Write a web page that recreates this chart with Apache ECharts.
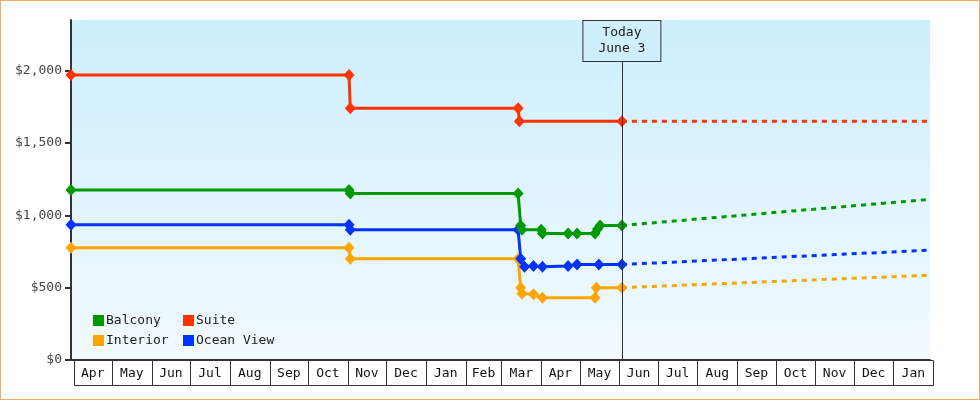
<!DOCTYPE html>
<html><head><meta charset="utf-8">
<script src="https://cdn.jsdelivr.net/npm/echarts@6/dist/echarts.min.js"></script>
<style>
html,body{margin:0;padding:0;background:#fff;}
#c{position:absolute;left:0;top:0;width:978px;height:398px;border:1px solid #e8ab6a;}
</style></head><body><div id="c"></div>
<script>
// ---- data ----
const monthLabels = ['Apr','May','Jun','Jul','Aug','Sep','Oct','Nov','Dec','Jan','Feb','Mar','Apr','May','Jun','Jul','Aug','Sep','Oct','Nov','Dec','Jan'];
const monthStarts = ['2014-04-01','2014-05-01','2014-06-01','2014-07-01','2014-08-01','2014-09-01','2014-10-01','2014-11-01','2014-12-01','2015-01-01','2015-02-01','2015-03-01','2015-04-01','2015-05-01','2015-06-01','2015-07-01','2015-08-01','2015-09-01','2015-10-01','2015-11-01','2015-12-01','2016-01-01','2016-02-01'];
const yTicks = [0, 500, 1000, 1500, 2000];

const balconyDates  = ['2014-03-30','2014-11-02','2014-11-03','2015-03-14','2015-03-16','2015-03-17','2015-04-01','2015-04-02','2015-04-22','2015-04-29','2015-05-13','2015-05-15','2015-05-17','2015-06-03'];
const balconyPrices = [1175,1175,1150,1150,930,900,900,875,875,875,875,905,930,930];

const suiteDates  = ['2014-03-30','2014-11-02','2014-11-03','2015-03-14','2015-03-15','2015-06-03'];
const suitePrices = [1970,1970,1740,1740,1650,1650];

const interiorDates  = ['2014-03-30','2014-11-02','2014-11-03','2015-03-14','2015-03-16','2015-03-17','2015-03-26','2015-04-02','2015-05-13','2015-05-14','2015-06-03'];
const interiorPrices = [775,775,700,700,500,460,455,430,430,500,500];

const oceanDates  = ['2014-03-30','2014-11-02','2014-11-03','2015-03-14','2015-03-16','2015-03-19','2015-03-26','2015-04-02','2015-04-22','2015-04-29','2015-05-16','2015-06-03'];
const oceanPrices = [935,935,900,900,700,645,650,645,650,660,660,660];

const forecastDates    = ['2015-06-03','2016-01-29'];
const balconyForecast  = [930, 1110];
const suiteForecast    = [1650, 1650];
const interiorForecast = [500, 586];
const oceanForecast    = [660, 759];

const todayDate = '2015-06-03';
const todayLabel = 'Today\nJune 3';

// ---- helpers ----
const ts = s => new Date(s + 'T00:00:00').getTime();
const pairs = (d, v) => d.map((x, i) => [ts(x), v[i]]);
const FONT = '"DejaVu Sans Mono", "Liberation Mono", monospace';

const colors = {Balcony:'#009900', Suite:'#ff3300', Interior:'#ffa500', 'Ocean View':'#0033ff'};

function obsSeries(name, d, v) {
  return {
    name, type:'line', data: pairs(d, v), color: colors[name],
    symbol:'diamond', symbolSize:[11,12], showSymbol:true,
    lineStyle:{width:3, color: colors[name]}, itemStyle:{color: colors[name]},
    animation:false, z:3
  };
}
function fcSeries(name, v) {
  return {
    name: name + ' forecast', type:'line', data: pairs(forecastDates, v),
    showSymbol:false, symbol:'none',
    lineStyle:{width:3, type:[5,5], color: colors[name]},
    animation:false, z:2, silent:true
  };
}

const chart = echarts.init(document.getElementById('c'), null, {renderer:'canvas'});
const monthData = monthLabels.map((m, i) => [ts(monthStarts[i]), ts(monthStarts[i+1]), m]);

const legendCommon = {
  orient:'vertical', itemWidth:11, itemHeight:11, itemGap:7, icon:'rect', padding:0,
  textStyle:{fontFamily:FONT, fontSize:13, color:'#222', padding:[0,0,0,-3]},
  selectedMode:false
};

chart.setOption({
  backgroundColor:'#fff',
  animation:false,
  grid:{
    left:70, right:49, top:19, bottom:39, show:true, borderWidth:0,
    backgroundColor: new echarts.graphic.LinearGradient(0,0,0,1,[
      {offset:0, color:'#cdeffc'}, {offset:1, color:'#f2faff'}
    ])
  },
  legend:[
    Object.assign({data:['Balcony','Interior'], left:92, top:313}, legendCommon),
    Object.assign({data:['Suite','Ocean View'], left:182, top:313}, legendCommon)
  ],
  xAxis:{
    type:'time', min: ts('2014-03-30'), max: ts('2016-01-29') + 12*3600e3,
    axisLine:{show:true, lineStyle:{color:'#333', width:2}},
    axisTick:{show:false}, axisLabel:{show:false}, splitLine:{show:false}
  },
  yAxis:{
    type:'value', min:0, max:2350, interval:500,
    axisLine:{show:true, lineStyle:{color:'#333', width:2}},
    axisTick:{show:true, length:6, lineStyle:{color:'#333', width:2}, customValues: yTicks},
    axisLabel:{customValues: yTicks, margin:9, fontFamily:FONT, fontSize:13, color:'#444',
      formatter: v => '$' + Number(v).toLocaleString('en-US')},
    splitLine:{show:false}
  },
  series:[
    {
      type:'custom', name:'months', data: monthData, clip:false, silent:true, z:1,
      encode:{x:[0,1]},
      renderItem(params, api){
        const x0 = api.coord([api.value(0), 0])[0];
        const x1 = api.coord([api.value(1), 0])[0];
        const y0 = params.coordSys.y + params.coordSys.height;
        const h = 25;
        return {type:'group', children:[
          {type:'rect', shape:{x:Math.round(x0)+0.5, y:y0+0.5, width:Math.round(x1)-Math.round(x0), height:h},
            style:{fill:null, stroke:'#333', lineWidth:1}},
          {type:'text', style:{text: monthLabels[params.dataIndex], x:(x0+x1)/2, y:y0+h/2+1,
            align:'center', verticalAlign:'middle', textAlign:'center', textVerticalAlign:'middle',
            font:'13px ' + FONT, fill:'#111'}}
        ]};
      }
    },
    {
      type:'line', name:'today', data:[], silent:true, animation:false,
      markLine:{
        silent:true, symbol:['none','none'], animation:false,
        lineStyle:{color:'#333', width:1, type:'solid'},
        label:{show:true, position:'end', distance:0, formatter: todayLabel,
          fontFamily:FONT, fontSize:13, color:'#222', lineHeight:16,
          backgroundColor:'#cfeffc', borderColor:'#333', borderWidth:1, padding:[4,15,4,15], align:'center'},
        data:[[{coord:[ts(todayDate), 0]}, {coord:[ts(todayDate), 2066]}]]
      }
    },
    fcSeries('Interior', interiorForecast),
    fcSeries('Ocean View', oceanForecast),
    fcSeries('Balcony', balconyForecast),
    fcSeries('Suite', suiteForecast),
    obsSeries('Interior', interiorDates, interiorPrices),
    obsSeries('Ocean View', oceanDates, oceanPrices),
    obsSeries('Balcony', balconyDates, balconyPrices),
    obsSeries('Suite', suiteDates, suitePrices)
  ]
});
</script></body></html>
